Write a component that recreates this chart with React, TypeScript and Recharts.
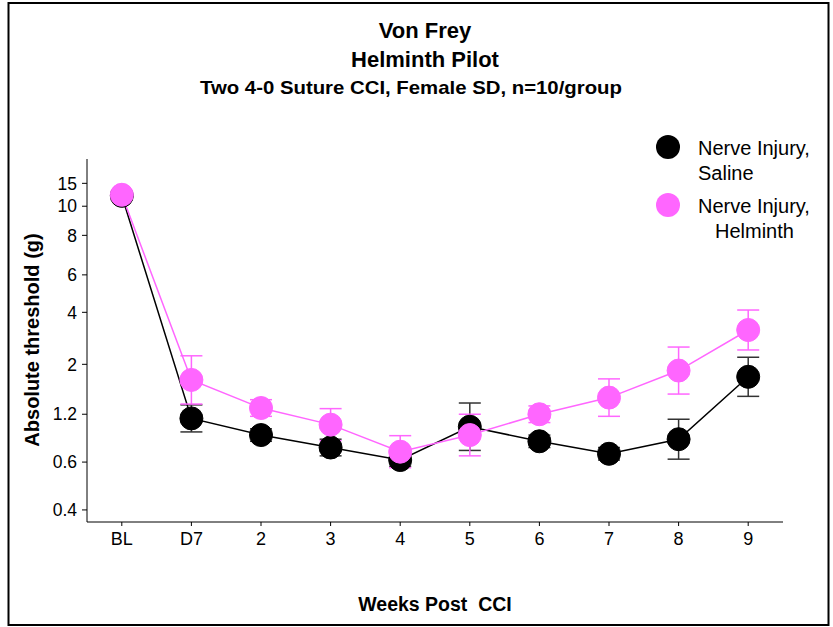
import { LineChart, Line, XAxis, YAxis, ErrorBar } from "recharts"

// time points after chronic constriction injury
const weeks = ["BL", "D7", "2", "3", "4", "5", "6", "7", "8", "9"]

// 50% withdrawal thresholds in filament log units, mean and SEM
const salineMean = [5.12, 4.05, 3.97, 3.91, 3.85, 4.01, 3.94, 3.88, 3.95, 4.25]
const salineSem = [0.01, 0.065, 0.03, 0.04, 0.03, 0.114, 0.03, 0.03, 0.096, 0.094]
const helminthMean = [5.125, 4.235, 4.1, 4.02, 3.89, 3.97, 4.07, 4.15, 4.28, 4.475]
const helminthSem = [0.01, 0.116, 0.04, 0.077, 0.077, 0.1, 0.04, 0.09, 0.113, 0.096]

// filament log units and the force in grams printed at each
const tickUnits = [3.61, 3.84, 4.07, 4.31, 4.56, 4.74, 4.93, 5.07, 5.18]
const tickGrams = ["0.4", "0.6", "1.2", "2", "4", "6", "8", "10", "15"]

const data = weeks.map((week, i) => ({
  week,
  saline: salineMean[i],
  salineErr: salineSem[i],
  helminth: helminthMean[i],
  helminthErr: helminthSem[i],
}))

const PINK = "#ff66ff"
const FONT = "'Liberation Sans', Arial, sans-serif"

const dot = (fill: string) => (props: any) => {
  const { cx, cy, index } = props
  if (cx == null || cy == null) return null
  return <circle key={index} cx={cx} cy={cy} r={11.5} fill={fill} stroke={fill === PINK ? PINK : "#000"} strokeWidth={1} />
}

function LegendItem({ y, color, lines }: { y: number; color: string; lines: [string, number][] }) {
  return (
    <g>
      <line x1={656} x2={680} y1={y} y2={y} stroke={color} strokeWidth={1.5} />
      <circle cx={668} cy={y} r={12} fill={color} />
      {lines.map(([t, x], i) => (
        <text key={i} x={x} y={y + 1 + i * 24.5} fontSize={20} dominantBaseline="central" fill="#000">
          {t}
        </text>
      ))}
    </g>
  )
}

export default function App() {
  const label = (v: number) => {
    const i = tickUnits.indexOf(v)
    return i >= 0 ? tickGrams[i] : ""
  }

  return (
    <div style={{ position: "absolute", left: 0, top: 0, width: 833, height: 627, background: "#fff", fontFamily: FONT }}>
      <LineChart
        width={833}
        height={627}
        data={data}
        margin={{ top: 159, right: 50, bottom: 75, left: 27 }}
        style={{ fontFamily: FONT }}
      >
        <XAxis
          dataKey="week"
          padding={{ left: 34.8, right: 34.8 }}
          stroke="#000"
          tickSize={4}
          tickMargin={6}
          tick={{ fill: "#000", fontSize: 18 }}
        />
        <YAxis
          type="number"
          width={60}
          domain={[3.552, 5.297]}
          ticks={tickUnits}
          tickFormatter={label}
          interval={0}
          stroke="#000"
          tickSize={5}
          tickMargin={5}
          tick={{ fill: "#000", fontSize: 17.5 }}
        />
        <Line
          dataKey="saline"
          stroke="#000"
          strokeWidth={1.5}
          dot={dot("#000")}
          activeDot={false}
          isAnimationActive={false}
        >
          <ErrorBar dataKey="salineErr" width={11} stroke="#333" strokeWidth={1.5} />
        </Line>
        <Line
          dataKey="helminth"
          stroke={PINK}
          strokeWidth={1.5}
          dot={dot(PINK)}
          activeDot={false}
          isAnimationActive={false}
        >
          <ErrorBar dataKey="helminthErr" width={11} stroke={PINK} strokeWidth={1.5} />
        </Line>
      </LineChart>

      <svg width={833} height={627} style={{ position: "absolute", left: 0, top: 0, pointerEvents: "none" }} fontFamily={FONT}>
        <rect x={8.5} y={3} width={820} height={622} fill="none" stroke="#000" strokeWidth={2} />
        <text x={425} y={30} textAnchor="middle" dominantBaseline="central" fontSize={22} fontWeight="bold">
          Von Frey
        </text>
        <text x={425} y={59} textAnchor="middle" dominantBaseline="central" fontSize={22} fontWeight="bold">
          Helminth Pilot
        </text>
        <text
          x={411}
          y={87}
          textAnchor="middle"
          dominantBaseline="central"
          fontSize={19}
          fontWeight="bold"
          textLength={422}
          lengthAdjust="spacingAndGlyphs"
        >
          Two 4-0 Suture CCI, Female SD, n=10/group
        </text>
        <text
          x={32}
          y={340}
          transform="rotate(-90 32 340)"
          textAnchor="middle"
          dominantBaseline="central"
          fontSize={20}
          fontWeight="bold"
        >
          Absolute threshold (g)
        </text>
        <text x={435} y={604} textAnchor="middle" dominantBaseline="central" fontSize={19.5} fontWeight="bold" style={{ whiteSpace: "pre" }}>
          {"Weeks Post  CCI"}
        </text>
        <LegendItem y={147} color="#000" lines={[["Nerve Injury,", 698], ["Saline", 698]]} />
        <LegendItem y={205} color={PINK} lines={[["Nerve Injury,", 698], ["Helminth", 715]]} />
      </svg>
    </div>
  )
}
